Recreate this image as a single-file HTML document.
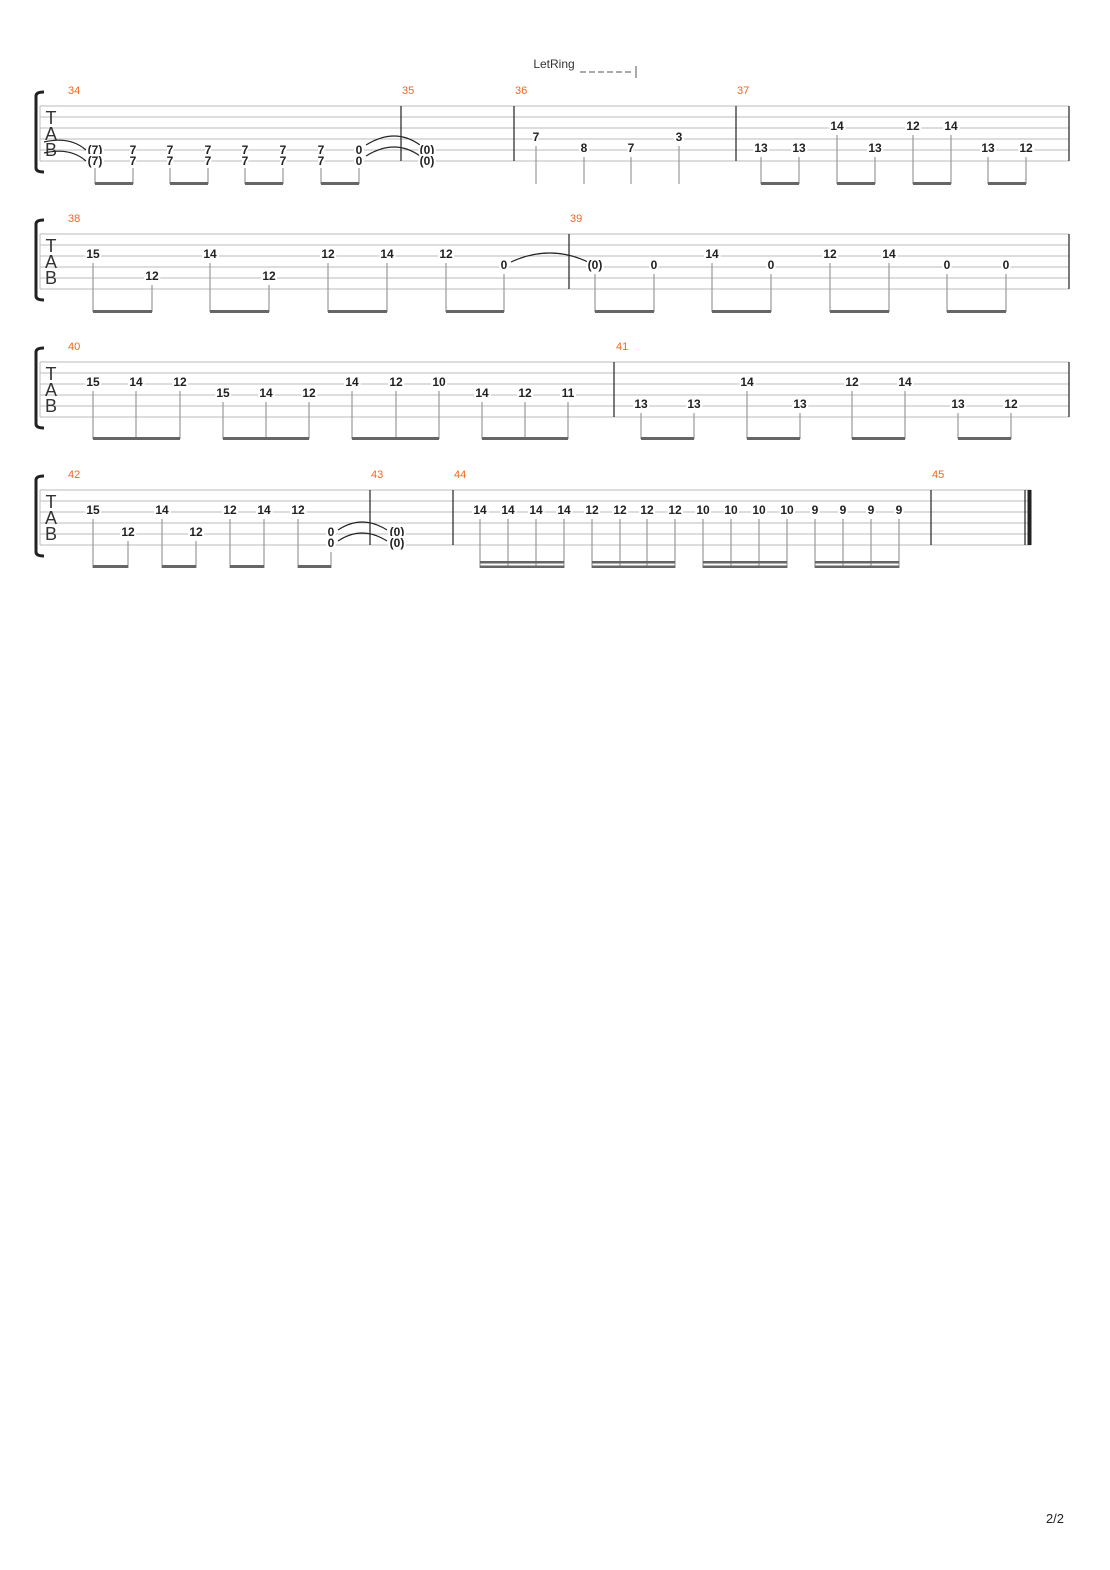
<!DOCTYPE html>
<html><head><meta charset="utf-8"><style>
html,body{margin:0;padding:0;background:#fff;}
svg{display:block}
.n{font:bold 12px "Liberation Sans",sans-serif;fill:#222;text-anchor:middle;stroke:#fff;stroke-width:4px;paint-order:stroke;}
.m{font:11px "Liberation Sans",sans-serif;fill:#f26522;}
.l{stroke:#bbb;stroke-width:1}
.b{stroke:#222;stroke-width:1.2}
.s{stroke:#999;stroke-width:1.2}
.bm{fill:#666}
.t{fill:none;stroke:#222;stroke-width:1.2}
.tab{font:18px "Liberation Sans",sans-serif;fill:#333;text-anchor:middle}
</style></head><body>
<svg width="1110" height="1570" viewBox="0 0 1110 1570" xmlns="http://www.w3.org/2000/svg">
<!-- LetRing -->
<text x="554" y="68" font-family="Liberation Sans" font-size="12" fill="#333" text-anchor="middle">LetRing</text>
<line x1="580" y1="72" x2="634" y2="72" stroke="#555" stroke-dasharray="6,3"/>
<line x1="636" y1="66" x2="636" y2="78" stroke="#555"/>

<!-- brackets -->
<g fill="none" stroke="#222" stroke-width="3">
<path d="M44 92 Q36 92 36 96 L36 168 Q36 172 44 172"/>
<path d="M44 220 Q36 220 36 224 L36 296 Q36 300 44 300"/>
<path d="M44 348 Q36 348 36 352 L36 424 Q36 428 44 428"/>
<path d="M44 476 Q36 476 36 480 L36 552 Q36 556 44 556"/>
</g>

<!-- System 1 -->
<g>
<line class="l" x1="40" y1="106" x2="1069" y2="106"/><line class="l" x1="40" y1="117" x2="1069" y2="117"/><line class="l" x1="40" y1="128" x2="1069" y2="128"/><line class="l" x1="40" y1="139" x2="1069" y2="139"/><line class="l" x1="40" y1="150" x2="1069" y2="150"/><line class="l" x1="40" y1="161" x2="1069" y2="161"/>
<line class="l" x1="40" y1="106" x2="40" y2="161"/>
<text class="tab" x="51" y="124">T</text><text class="tab" x="51" y="140">A</text><text class="tab" x="51" y="156">B</text>
<line class="b" x1="401" y1="106" x2="401" y2="161"/><line class="b" x1="514" y1="106" x2="514" y2="161"/><line class="b" x1="736" y1="106" x2="736" y2="161"/><line class="b" x1="1069" y1="106" x2="1069" y2="161"/>
<text class="m" x="68" y="94">34</text><text class="m" x="402" y="94">35</text><text class="m" x="515" y="94">36</text><text class="m" x="737" y="94">37</text>
<path class="t" d="M44 142 Q70 136 86 150"/><path class="t" d="M44 153 Q70 147 86 161"/>
<path class="t" d="M366 145 Q395 127 420 145"/><path class="t" d="M366 156 Q395 138 420 156"/>
<text class="n" x="95" y="154">(7)</text><text class="n" x="95" y="165">(7)</text>
<text class="n" x="133" y="154">7</text><text class="n" x="133" y="165">7</text>
<text class="n" x="170" y="154">7</text><text class="n" x="170" y="165">7</text>
<text class="n" x="208" y="154">7</text><text class="n" x="208" y="165">7</text>
<text class="n" x="245" y="154">7</text><text class="n" x="245" y="165">7</text>
<text class="n" x="283" y="154">7</text><text class="n" x="283" y="165">7</text>
<text class="n" x="321" y="154">7</text><text class="n" x="321" y="165">7</text>
<text class="n" x="359" y="154">0</text><text class="n" x="359" y="165">0</text>
<text class="n" x="427" y="154">(0)</text><text class="n" x="427" y="165">(0)</text>
<line class="s" x1="95" y1="168" x2="95" y2="184"/><line class="s" x1="133" y1="168" x2="133" y2="184"/><line class="s" x1="170" y1="168" x2="170" y2="184"/><line class="s" x1="208" y1="168" x2="208" y2="184"/><line class="s" x1="245" y1="168" x2="245" y2="184"/><line class="s" x1="283" y1="168" x2="283" y2="184"/><line class="s" x1="321" y1="168" x2="321" y2="184"/><line class="s" x1="359" y1="168" x2="359" y2="184"/>
<rect class="bm" x="95" y="182" width="38" height="3"/><rect class="bm" x="170" y="182" width="38" height="3"/><rect class="bm" x="245" y="182" width="38" height="3"/><rect class="bm" x="321" y="182" width="38" height="3"/>
<text class="n" x="536" y="141">7</text><text class="n" x="584" y="152">8</text><text class="n" x="631" y="152">7</text><text class="n" x="679" y="141">3</text>
<line class="s" x1="536" y1="146" x2="536" y2="184"/><line class="s" x1="584" y1="157" x2="584" y2="184"/><line class="s" x1="631" y1="157" x2="631" y2="184"/><line class="s" x1="679" y1="146" x2="679" y2="184"/>
<text class="n" x="761" y="152">13</text><text class="n" x="799" y="152">13</text><text class="n" x="837" y="130">14</text><text class="n" x="875" y="152">13</text><text class="n" x="913" y="130">12</text><text class="n" x="951" y="130">14</text><text class="n" x="988" y="152">13</text><text class="n" x="1026" y="152">12</text>
<line class="s" x1="761" y1="157" x2="761" y2="184"/><line class="s" x1="799" y1="157" x2="799" y2="184"/><line class="s" x1="837" y1="135" x2="837" y2="184"/><line class="s" x1="875" y1="157" x2="875" y2="184"/><line class="s" x1="913" y1="135" x2="913" y2="184"/><line class="s" x1="951" y1="135" x2="951" y2="184"/><line class="s" x1="988" y1="157" x2="988" y2="184"/><line class="s" x1="1026" y1="157" x2="1026" y2="184"/>
<rect class="bm" x="761" y="182" width="38" height="3"/><rect class="bm" x="837" y="182" width="38" height="3"/><rect class="bm" x="913" y="182" width="38" height="3"/><rect class="bm" x="988" y="182" width="38" height="3"/>
</g>

<!-- System 2 -->
<g>
<line class="l" x1="40" y1="234" x2="1069" y2="234"/><line class="l" x1="40" y1="245" x2="1069" y2="245"/><line class="l" x1="40" y1="256" x2="1069" y2="256"/><line class="l" x1="40" y1="267" x2="1069" y2="267"/><line class="l" x1="40" y1="278" x2="1069" y2="278"/><line class="l" x1="40" y1="289" x2="1069" y2="289"/>
<line class="l" x1="40" y1="234" x2="40" y2="289"/>
<text class="tab" x="51" y="252">T</text><text class="tab" x="51" y="268">A</text><text class="tab" x="51" y="284">B</text>
<line class="b" x1="569" y1="234" x2="569" y2="289"/><line class="b" x1="1069" y1="234" x2="1069" y2="289"/>
<text class="m" x="68" y="222">38</text><text class="m" x="570" y="222">39</text>
<path class="t" d="M511 262 Q550 244 588 262"/>
<text class="n" x="93" y="258">15</text><text class="n" x="152" y="280">12</text><text class="n" x="210" y="258">14</text><text class="n" x="269" y="280">12</text><text class="n" x="328" y="258">12</text><text class="n" x="387" y="258">14</text><text class="n" x="446" y="258">12</text><text class="n" x="504" y="269">0</text>
<text class="n" x="595" y="269">(0)</text><text class="n" x="654" y="269">0</text><text class="n" x="712" y="258">14</text><text class="n" x="771" y="269">0</text><text class="n" x="830" y="258">12</text><text class="n" x="889" y="258">14</text><text class="n" x="947" y="269">0</text><text class="n" x="1006" y="269">0</text>
<g class="s">
<line x1="93" y1="263" x2="93" y2="312"/><line x1="152" y1="285" x2="152" y2="312"/><line x1="210" y1="263" x2="210" y2="312"/><line x1="269" y1="285" x2="269" y2="312"/><line x1="328" y1="263" x2="328" y2="312"/><line x1="387" y1="263" x2="387" y2="312"/><line x1="446" y1="263" x2="446" y2="312"/><line x1="504" y1="274" x2="504" y2="312"/>
<line x1="595" y1="274" x2="595" y2="312"/><line x1="654" y1="274" x2="654" y2="312"/><line x1="712" y1="263" x2="712" y2="312"/><line x1="771" y1="274" x2="771" y2="312"/><line x1="830" y1="263" x2="830" y2="312"/><line x1="889" y1="263" x2="889" y2="312"/><line x1="947" y1="274" x2="947" y2="312"/><line x1="1006" y1="274" x2="1006" y2="312"/>
</g>
<rect class="bm" x="93" y="310" width="59" height="3"/><rect class="bm" x="210" y="310" width="59" height="3"/><rect class="bm" x="328" y="310" width="59" height="3"/><rect class="bm" x="446" y="310" width="58" height="3"/>
<rect class="bm" x="595" y="310" width="59" height="3"/><rect class="bm" x="712" y="310" width="59" height="3"/><rect class="bm" x="830" y="310" width="59" height="3"/><rect class="bm" x="947" y="310" width="59" height="3"/>
</g>

<!-- System 3 -->
<g>
<line class="l" x1="40" y1="362" x2="1069" y2="362"/><line class="l" x1="40" y1="373" x2="1069" y2="373"/><line class="l" x1="40" y1="384" x2="1069" y2="384"/><line class="l" x1="40" y1="395" x2="1069" y2="395"/><line class="l" x1="40" y1="406" x2="1069" y2="406"/><line class="l" x1="40" y1="417" x2="1069" y2="417"/>
<line class="l" x1="40" y1="362" x2="40" y2="417"/>
<text class="tab" x="51" y="380">T</text><text class="tab" x="51" y="396">A</text><text class="tab" x="51" y="412">B</text>
<line class="b" x1="614" y1="362" x2="614" y2="417"/><line class="b" x1="1069" y1="362" x2="1069" y2="417"/>
<text class="m" x="68" y="350">40</text><text class="m" x="616" y="350">41</text>
<text class="n" x="93" y="386">15</text><text class="n" x="136" y="386">14</text><text class="n" x="180" y="386">12</text>
<text class="n" x="223" y="397">15</text><text class="n" x="266" y="397">14</text><text class="n" x="309" y="397">12</text>
<text class="n" x="352" y="386">14</text><text class="n" x="396" y="386">12</text><text class="n" x="439" y="386">10</text>
<text class="n" x="482" y="397">14</text><text class="n" x="525" y="397">12</text><text class="n" x="568" y="397">11</text>
<text class="n" x="641" y="408">13</text><text class="n" x="694" y="408">13</text><text class="n" x="747" y="386">14</text><text class="n" x="800" y="408">13</text><text class="n" x="852" y="386">12</text><text class="n" x="905" y="386">14</text><text class="n" x="958" y="408">13</text><text class="n" x="1011" y="408">12</text>
<g class="s">
<line x1="93" y1="391" x2="93" y2="439"/><line x1="136" y1="391" x2="136" y2="439"/><line x1="180" y1="391" x2="180" y2="439"/>
<line x1="223" y1="402" x2="223" y2="439"/><line x1="266" y1="402" x2="266" y2="439"/><line x1="309" y1="402" x2="309" y2="439"/>
<line x1="352" y1="391" x2="352" y2="439"/><line x1="396" y1="391" x2="396" y2="439"/><line x1="439" y1="391" x2="439" y2="439"/>
<line x1="482" y1="402" x2="482" y2="439"/><line x1="525" y1="402" x2="525" y2="439"/><line x1="568" y1="402" x2="568" y2="439"/>
<line x1="641" y1="413" x2="641" y2="439"/><line x1="694" y1="413" x2="694" y2="439"/><line x1="747" y1="391" x2="747" y2="439"/><line x1="800" y1="413" x2="800" y2="439"/><line x1="852" y1="391" x2="852" y2="439"/><line x1="905" y1="391" x2="905" y2="439"/><line x1="958" y1="413" x2="958" y2="439"/><line x1="1011" y1="413" x2="1011" y2="439"/>
</g>
<rect class="bm" x="93" y="437" width="87" height="3"/><rect class="bm" x="223" y="437" width="86" height="3"/><rect class="bm" x="352" y="437" width="87" height="3"/><rect class="bm" x="482" y="437" width="86" height="3"/>
<rect class="bm" x="641" y="437" width="53" height="3"/><rect class="bm" x="747" y="437" width="53" height="3"/><rect class="bm" x="852" y="437" width="53" height="3"/><rect class="bm" x="958" y="437" width="53" height="3"/>
</g>

<!-- System 4 -->
<g>
<line class="l" x1="40" y1="490" x2="1031" y2="490"/><line class="l" x1="40" y1="501" x2="1031" y2="501"/><line class="l" x1="40" y1="512" x2="1031" y2="512"/><line class="l" x1="40" y1="523" x2="1031" y2="523"/><line class="l" x1="40" y1="534" x2="1031" y2="534"/><line class="l" x1="40" y1="545" x2="1031" y2="545"/>
<line class="l" x1="40" y1="490" x2="40" y2="545"/>
<text class="tab" x="51" y="508">T</text><text class="tab" x="51" y="524">A</text><text class="tab" x="51" y="540">B</text>
<line class="b" x1="370" y1="490" x2="370" y2="545"/><line class="b" x1="453" y1="490" x2="453" y2="545"/><line class="b" x1="931" y1="490" x2="931" y2="545"/>
<line class="b" x1="1025" y1="490" x2="1025" y2="545"/><rect x="1027.5" y="490" width="4" height="55" fill="#222"/>
<text class="m" x="68" y="478">42</text><text class="m" x="371" y="478">43</text><text class="m" x="454" y="478">44</text><text class="m" x="932" y="478">45</text>
<path class="t" d="M338 530 Q362 514 387 530"/><path class="t" d="M338 541 Q362 525 387 541"/>
<text class="n" x="93" y="514">15</text><text class="n" x="128" y="536">12</text><text class="n" x="162" y="514">14</text><text class="n" x="196" y="536">12</text><text class="n" x="230" y="514">12</text><text class="n" x="264" y="514">14</text><text class="n" x="298" y="514">12</text>
<text class="n" x="331" y="536">0</text><text class="n" x="331" y="547">0</text>
<text class="n" x="397" y="536">(0)</text><text class="n" x="397" y="547">(0)</text>
<text class="n" x="480" y="514">14</text><text class="n" x="508" y="514">14</text><text class="n" x="536" y="514">14</text><text class="n" x="564" y="514">14</text>
<text class="n" x="592" y="514">12</text><text class="n" x="620" y="514">12</text><text class="n" x="647" y="514">12</text><text class="n" x="675" y="514">12</text>
<text class="n" x="703" y="514">10</text><text class="n" x="731" y="514">10</text><text class="n" x="759" y="514">10</text><text class="n" x="787" y="514">10</text>
<text class="n" x="815" y="514">9</text><text class="n" x="843" y="514">9</text><text class="n" x="871" y="514">9</text><text class="n" x="899" y="514">9</text>
<g class="s">
<line x1="93" y1="519" x2="93" y2="568"/><line x1="128" y1="541" x2="128" y2="568"/><line x1="162" y1="519" x2="162" y2="568"/><line x1="196" y1="541" x2="196" y2="568"/><line x1="230" y1="519" x2="230" y2="568"/><line x1="264" y1="519" x2="264" y2="568"/><line x1="298" y1="519" x2="298" y2="568"/><line x1="331" y1="552" x2="331" y2="568"/>
<line x1="480" y1="519" x2="480" y2="568"/><line x1="508" y1="519" x2="508" y2="568"/><line x1="536" y1="519" x2="536" y2="568"/><line x1="564" y1="519" x2="564" y2="568"/>
<line x1="592" y1="519" x2="592" y2="568"/><line x1="620" y1="519" x2="620" y2="568"/><line x1="647" y1="519" x2="647" y2="568"/><line x1="675" y1="519" x2="675" y2="568"/>
<line x1="703" y1="519" x2="703" y2="568"/><line x1="731" y1="519" x2="731" y2="568"/><line x1="759" y1="519" x2="759" y2="568"/><line x1="787" y1="519" x2="787" y2="568"/>
<line x1="815" y1="519" x2="815" y2="568"/><line x1="843" y1="519" x2="843" y2="568"/><line x1="871" y1="519" x2="871" y2="568"/><line x1="899" y1="519" x2="899" y2="568"/>
</g>
<rect class="bm" x="93" y="565" width="35" height="3"/><rect class="bm" x="162" y="565" width="34" height="3"/><rect class="bm" x="230" y="565" width="34" height="3"/><rect class="bm" x="298" y="565" width="33" height="3"/>
<rect class="bm" x="480" y="561" width="84" height="2.5"/><rect class="bm" x="480" y="565.5" width="84" height="2.5"/>
<rect class="bm" x="592" y="561" width="83" height="2.5"/><rect class="bm" x="592" y="565.5" width="83" height="2.5"/>
<rect class="bm" x="703" y="561" width="84" height="2.5"/><rect class="bm" x="703" y="565.5" width="84" height="2.5"/>
<rect class="bm" x="815" y="561" width="84" height="2.5"/><rect class="bm" x="815" y="565.5" width="84" height="2.5"/>
</g>

<text x="1055" y="1523" font-family="Liberation Sans" font-size="13" fill="#222" text-anchor="middle">2/2</text>
</svg>
</body></html>
